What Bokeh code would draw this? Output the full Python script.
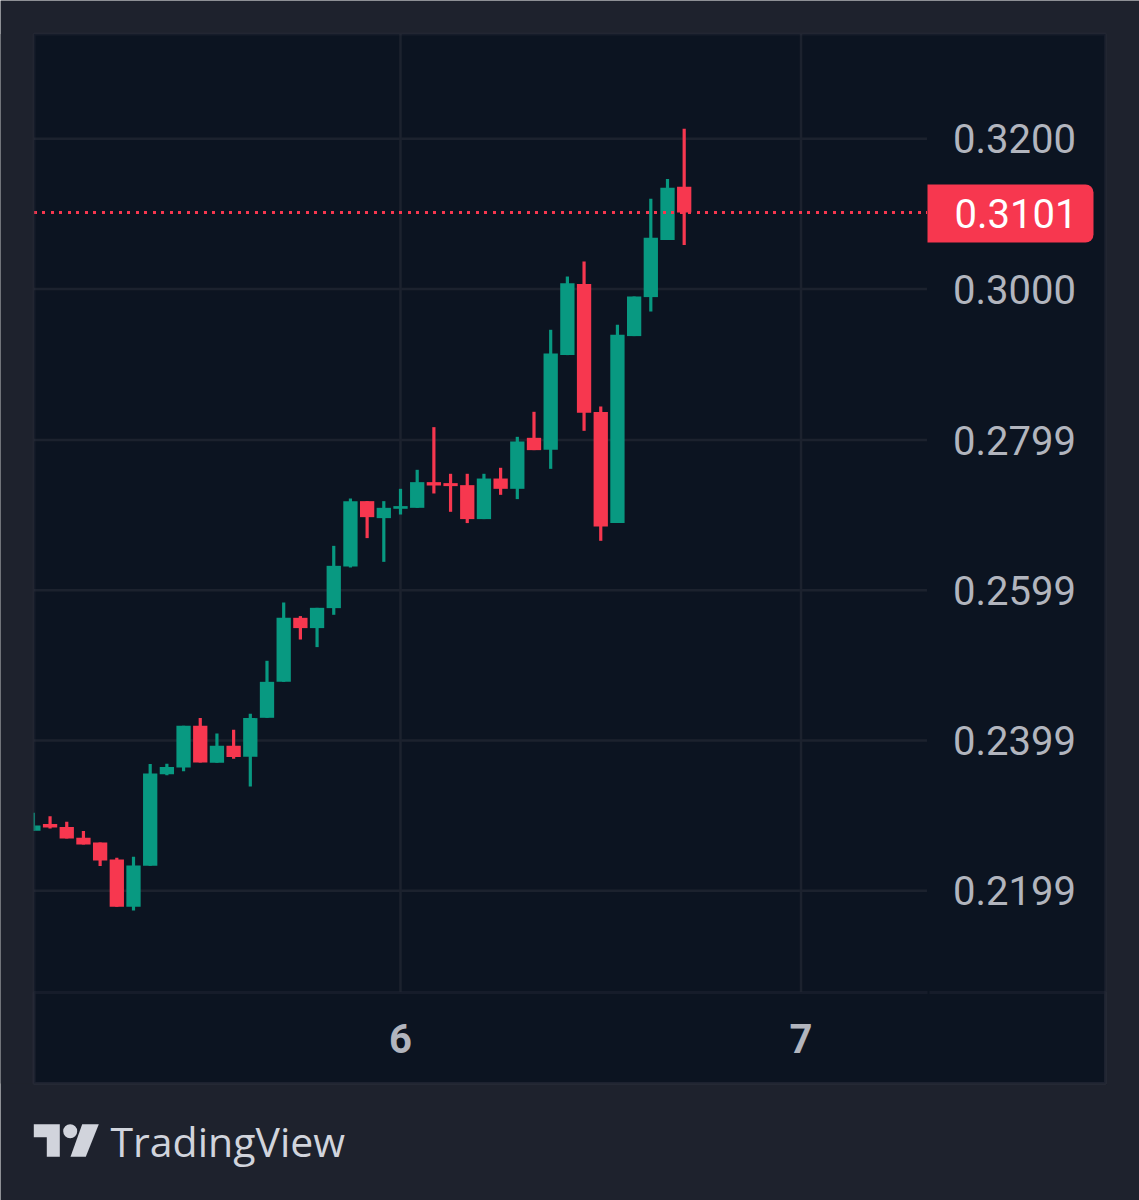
from bokeh.embed import file_html
from bokeh.models import BoxAnnotation, FixedTicker, Label, LinearAxis, NumeralTickFormatter, PolyAnnotation, Range1d
from bokeh.plotting import figure
from bokeh.resources import INLINE

# hours counted from the start of day 5
hours = list(range(2, 42))
opens = [0.22789, 0.22878, 0.22838, 0.22696, 0.22633, 0.22407, 0.21777, 0.22323, 0.23543, 0.23631,
         0.24186, 0.23694, 0.2392, 0.23774, 0.24293, 0.24772, 0.25624, 0.25487, 0.25753, 0.26307,
         0.27177, 0.26951, 0.27075, 0.27088, 0.2743, 0.27417, 0.2739, 0.26938, 0.27478, 0.27341,
         0.2802, 0.2786, 0.29121, 0.30066, 0.28362, 0.26885, 0.29374, 0.29893, 0.30652, 0.31361]
highs = [0.23028, 0.22984, 0.22909, 0.22785, 0.22633, 0.22429, 0.22443, 0.23677, 0.23681, 0.24186,
         0.24289, 0.24084, 0.24133, 0.24346, 0.25052, 0.25828, 0.25647, 0.25757, 0.26582, 0.27212,
         0.27177, 0.27177, 0.27341, 0.27594, 0.28162, 0.27541, 0.27541, 0.27541, 0.27621, 0.28033,
         0.28366, 0.29458, 0.30167, 0.30367, 0.28437, 0.29524, 0.29901, 0.31201, 0.31464, 0.32133]
lows = [0.22789, 0.22819, 0.22686, 0.22606, 0.22319, 0.21777, 0.21728, 0.22323, 0.2353, 0.23583,
        0.23698, 0.23694, 0.23747, 0.23379, 0.24293, 0.24772, 0.25335, 0.25234, 0.25664, 0.26294,
        0.26685, 0.26369, 0.26999, 0.27088, 0.27279, 0.27035, 0.26885, 0.26938, 0.27261, 0.27204,
        0.27856, 0.27607, 0.29121, 0.28113, 0.26649, 0.26885, 0.29374, 0.29701, 0.30652, 0.30585]
closes = [0.22859, 0.22833, 0.22686, 0.22606, 0.22393, 0.21777, 0.22327, 0.23552, 0.23637, 0.24186,
          0.23698, 0.2392, 0.2377, 0.24289, 0.24772, 0.25624, 0.25487, 0.25757, 0.26316, 0.27177,
          0.26964, 0.27088, 0.27111, 0.2743, 0.27385, 0.27377, 0.26938, 0.27478, 0.27341, 0.27971,
          0.27856, 0.29142, 0.30079, 0.28353, 0.26839, 0.29391, 0.29901, 0.30682, 0.31348, 0.31019]
price_ticks = [0.2199, 0.2399, 0.2599, 0.2799, 0.3000, 0.3200]
day_ticks = [6, 7]
last_label = "0.3101"

GREEN = "#089981"
RED = "#f7374f"
PAGE = "#1e222d"
PANEL = "#0c1421"
BORDER = "#2e323e"
GRID = "#1c222e"
LABEL = "#b2b5be"
LOGO = "#d1d4dc"

# chart pane limits, in days and price
pane_left, pane_right = 5.0849, 7.3146
pane_bottom, pane_top = 0.20646, 0.33398

days = [5 + h / 24 for h in hours]
colors = [GREEN if c >= o else RED for o, c in zip(opens, closes)]
tops = [max(o, c) for o, c in zip(opens, closes)]
bottoms = [min(o, c) for o, c in zip(opens, closes)]

# the frame fills the whole canvas, panes are drawn inside it
p = figure(
    width=1139,
    height=1200,
    x_range=Range1d(5.00125, 7.8452),
    y_range=Range1d(0.17868, 0.33841),
    x_axis_location=None,
    y_axis_location=None,
    min_border=0,
    output_backend="svg",
    toolbar_location=None,
    tools="",
)
p.background_fill_color = PAGE
p.border_fill_color = PAGE
p.outline_line_color = None
p.grid.visible = False


def box(left, top, right, bottom, **kw):
    return BoxAnnotation(
        left=left, right=right, top=top, bottom=bottom,
        left_units="canvas", right_units="canvas", top_units="canvas", bottom_units="canvas",
        **kw
    )


p.add_layout(box(33.5, 33.5, 1105, 1083, fill_color=PANEL, fill_alpha=1, line_color=None, level="underlay"))

# grid stops at the price scale
p.segment(x0=pane_left, x1=pane_right, y0=price_ticks, y1=price_ticks, color=GRID, line_width=2.5)
p.segment(x0=day_ticks, x1=day_ticks, y0=pane_bottom, y1=pane_top, color=GRID, line_width=2.5)

price_axis = LinearAxis(fixed_location=pane_right, ticker=FixedTicker(ticks=price_ticks),
                        formatter=NumeralTickFormatter(format="0.0000"), major_label_standoff=20)
day_axis = LinearAxis(fixed_location=pane_bottom, ticker=FixedTicker(ticks=day_ticks),
                      formatter=NumeralTickFormatter(format="0"), major_label_standoff=26,
                      major_label_text_font_style="bold")
for ax in (price_axis, day_axis):
    ax.axis_line_color = None
    ax.major_tick_line_color = None
    ax.minor_tick_line_color = None
    ax.major_label_text_color = LABEL
    ax.major_label_text_font = "Roboto"
    ax.major_label_text_font_size = "40px"
p.add_layout(price_axis, "right")
p.add_layout(day_axis, "below")

p.segment(x0=days, x1=days, y0=lows, y1=highs, color=colors, line_width=3.2)
p.vbar(x=days, top=tops, bottom=bottoms, width=0.0357, fill_color=colors, line_color=None)

# last price line
p.line(x=[pane_left, pane_right], y=[closes[-1], closes[-1]], color=RED, line_width=3, line_dash="3 5 3 6")

# first candle is cut by the pane edge
p.add_layout(box(0, 33.5, 33, 1083, fill_color=PAGE, fill_alpha=1, line_color=None))
p.add_layout(box(33.5, 33.5, 1105, 1083, fill_alpha=0, line_color=BORDER, line_width=3))
p.add_layout(box(33.5, 992, 1105, 1083, fill_alpha=0, line_color=BORDER, line_width=3))
p.add_layout(box(927, 990, 929, 993.5, fill_color=PANEL, fill_alpha=1, line_color=None))

# last price tag
p.add_layout(box(927, 184, 1093, 242, fill_color=RED, fill_alpha=1, line_color=None,
                 border_radius=dict(top_left=0, top_right=8, bottom_right=8, bottom_left=0)))
p.add_layout(Label(x=954, y=213, x_units="canvas", y_units="canvas", text=last_label,
                   text_color="#ffffff", text_font="Roboto", text_font_size="40px", text_baseline="middle"))

# logo
for xs, ys in [
    ([33.3, 59.3, 59.3, 46.3, 46.3, 33.3], [1123.7, 1123.7, 1156.3, 1156.3, 1136.7, 1136.7]),
    ([81.7, 98.3, 85.3, 70], [1123.7, 1123.7, 1156.3, 1156.3]),
]:
    p.add_layout(PolyAnnotation(xs=xs, ys=ys, xs_units="canvas", ys_units="canvas",
                                fill_color=LOGO, fill_alpha=1, line_color=None))
p.add_layout(box(62.7, 1123.7, 76.7, 1137.7, fill_color=LOGO, fill_alpha=1, line_color=None, border_radius=7))
p.add_layout(Label(x=110, y=1140, x_units="canvas", y_units="canvas", text="TradingView",
                   text_color=LOGO, text_font="Open Sans", text_font_size="41px", text_baseline="alphabetic"))

open("out.html", "w").write(file_html(p, INLINE))
